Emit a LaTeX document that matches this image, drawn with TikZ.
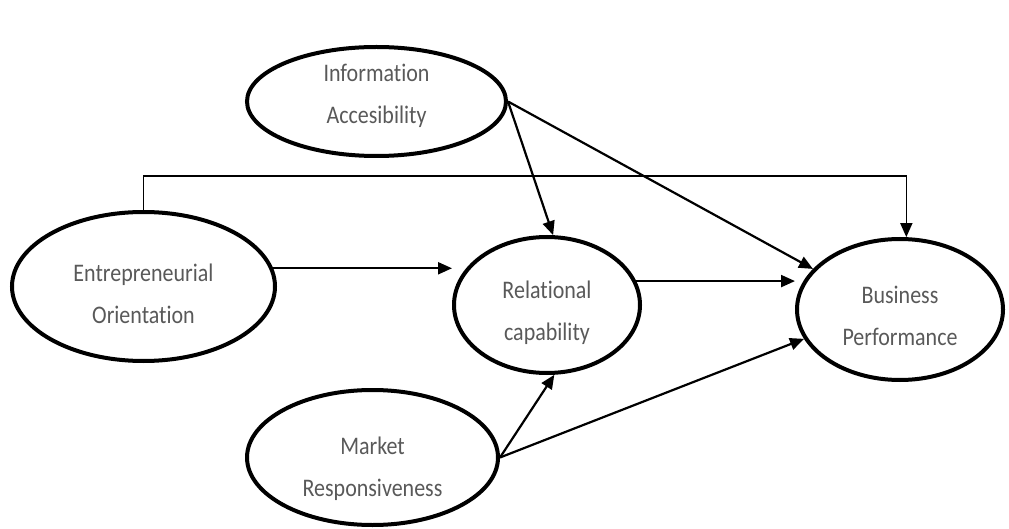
\documentclass[tikz,border=0pt]{standalone}
\usepackage{fontspec}
\setmainfont{Carlito}[Ligatures=NoCommon]
\usetikzlibrary{shapes.geometric,arrows.meta}
% slightly tall lettering
\newcommand\tallword[1]{\scalebox{1}[1.15]{#1}}
\begin{document}
\begin{tikzpicture}[x=1pt,y=-1pt,
  construct/.style={ellipse,draw,line width=4pt,inner sep=0pt},
  caption/.style={align=center,inner sep=0pt,text=black!65,
    font=\fontsize{22}{42}\selectfont},
  arr/.style={line width=2.2pt,-{Triangle[length=14pt,width=12pt]}},
  link/.style={line width=1.6pt,-{Triangle[length=14pt,width=12pt]}},
]
\useasboundingbox (0,0) rectangle (1009,529);

% constructs
\node[construct,minimum width=259pt,minimum height=109pt] (ia) at (376.5,101.5) {};
\node[construct,minimum width=263pt,minimum height=149pt] (eo) at (143.5,286.5) {};
\node[construct,minimum width=186pt,minimum height=136pt] (rc) at (547,305) {};
\node[construct,minimum width=206pt,minimum height=141pt] (bp) at (900,309.5) {};
\node[construct,minimum width=251pt,minimum height=135pt] (mr) at (372.5,457.5) {};

% construct names
\node[caption] (ia-name) at ([yshift=6pt]ia.center) {\tallword{Information}\\\tallword{Accesibility}};
\node[caption] (eo-name) at ([yshift=-7pt]eo.center) {\tallword{Entrepreneurial}\\\tallword{Orientation}};
\node[caption] (rc-name) at ([yshift=-8pt]rc.center) {\tallword{Relational}\\\tallword{capability}};
\node[caption] (bp-name) at ([yshift=-6pt]bp.center) {\tallword{Business}\\\tallword{Performance}};
\node[caption] (mr-name) at ([yshift=-11pt]mr.center) {\tallword{Market}\\\tallword{Responsiveness}};

% paths
\draw[arr] (ia.east) -- (rc.85);
\draw[arr] (ia.east) -- (bp.155);
\draw[arr] (eo.8) -- (eo.8 -| rc.west);
\draw[arr] (rc.15) -- (rc.15 -| bp.west);
\draw[arr] (mr.east) -- (rc.-84);
\draw[arr] (mr.east) -- (bp.197);
\draw[link] (eo.north) -- ++(0,-34) -| (bp.85);
\end{tikzpicture}
\end{document}
